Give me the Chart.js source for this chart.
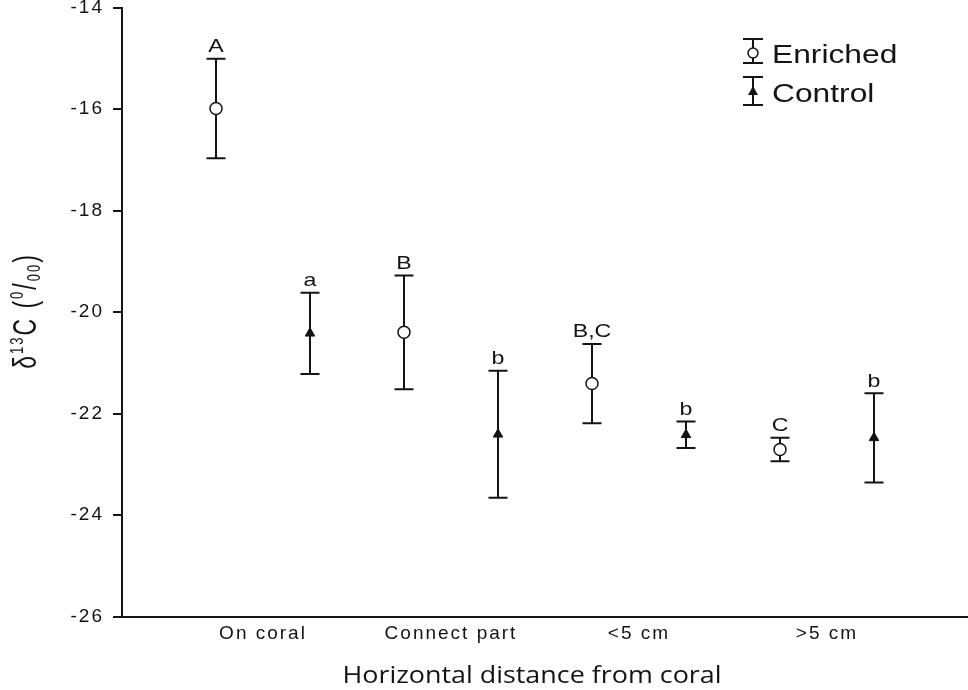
<!DOCTYPE html>
<html>
<head>
<meta charset="utf-8">
<script src="https://cdn.jsdelivr.net/npm/chart.js@4.4.1/dist/chart.umd.min.js"></script>
<style>
  html, body { margin: 0; padding: 0; background: #fff; }
  #wrap { width: 968px; height: 690px; }
</style>
</head>
<body>
<div id="wrap"><canvas id="chart" width="968" height="690"></canvas></div>
<script>
// values (mean +/- error, per group)
const categories = ['On coral', 'Connect part', '<5 cm', '>5 cm'];
const enrichedMean = [-15.99, -20.40, -21.41, -22.71];
const enrichedErr = [0.98, 1.12, 0.78, 0.23];
const controlMean = [-20.42, -22.41, -22.42, -22.48];
const controlErr = [0.80, 1.25, 0.26, 0.88];
const enrichedLetters = ['A', 'B', 'B,C', 'C'];
const controlLetters = ['a', 'b', 'b', 'b'];
const yTickValues = [-26, -24, -22, -20, -18, -16, -14];

const INK = '#141414';
const ARIAL = "'Liberation Sans', Arial, sans-serif";
const STRETCH = 1.22;   // glyphs in the figure are drawn wider than normal
const OFFSET = 0.25;    // side-by-side shift of the two groups

function buildPoints(means, errs, letters, shift) {
    return means.map((m, i) => ({ x: i + 1 + shift, y: m, err: errs[i], letter: letters[i] }));
}

// draw text stretched horizontally
function wideText(ctx, text, x, y, font, sx) {
    ctx.save();
    ctx.font = font;
    ctx.translate(x, y);
    ctx.scale(sx, 1);
    ctx.fillText(text, 0, 0);
    ctx.restore();
}

const errorBars = {
    id: 'errorBars',
    beforeDatasetsDraw(chart) {
        const { ctx, scales: { x, y } } = chart;
        ctx.save();
        ctx.strokeStyle = INK;
        ctx.lineWidth = 2;
        chart.data.datasets.forEach(ds => {
            ds.data.forEach(p => {
                const px = x.getPixelForValue(p.x);
                const top = y.getPixelForValue(p.y + p.err);
                const bot = y.getPixelForValue(p.y - p.err);
                ctx.beginPath();
                ctx.moveTo(px, top); ctx.lineTo(px, bot);
                ctx.moveTo(px - 9.5, top); ctx.lineTo(px + 9.5, top);
                ctx.moveTo(px - 9.5, bot); ctx.lineTo(px + 9.5, bot);
                ctx.stroke();
            });
        });
        ctx.restore();
    },
    afterDatasetsDraw(chart) {
        const { ctx, scales: { x, y } } = chart;
        ctx.save();
        ctx.letterSpacing = '0px';
        ctx.fillStyle = INK;
        ctx.textAlign = 'center';
        ctx.textBaseline = 'alphabetic';
        chart.data.datasets.forEach(ds => {
            ds.data.forEach(p => {
                const px = x.getPixelForValue(p.x);
                const top = y.getPixelForValue(p.y + p.err);
                wideText(ctx, p.letter, px, top - 6.5, '19px ' + ARIAL, STRETCH);
            });
        });
        ctx.restore();
    }
};

const decorations = {
    id: 'decorations',
    beforeDraw(chart) {
        // tick labels in the figure are spaced out
        chart.ctx.letterSpacing = '2px';
    },
    afterDraw(chart) {
        const ctx = chart.ctx;
        ctx.save();
        ctx.letterSpacing = '0px';
        ctx.fillStyle = INK;
        ctx.strokeStyle = INK;

        // x axis title
        ctx.textAlign = 'center';
        ctx.textBaseline = 'alphabetic';
        wideText(ctx, 'Horizontal distance from coral', 532, 683,
            "24px 'Open Sans', 'Noto Sans', sans-serif", 1.12);

        // y axis title: δ13C (0/00)
        ctx.save();
        ctx.translate(36, 311);
        ctx.rotate(-Math.PI / 2);
        ctx.scale(1, 1.45);
        ctx.letterSpacing = '2px';
        ctx.textAlign = 'left';
        const big = '23px ' + ARIAL, small = '13px ' + ARIAL;
        const parts = [
            ['δ', big, 0], ['13', small, -9], ['C (', big, 0],
            ['0', small, -9], ['/', big, 0], ['00', small, 3], [')', big, 0]
        ];
        let total = 0;
        parts.forEach(pt => { ctx.font = pt[1]; total += ctx.measureText(pt[0]).width; });
        let cx = -total / 2;
        parts.forEach(pt => {
            ctx.font = pt[1];
            ctx.fillText(pt[0], cx, pt[2]);
            cx += ctx.measureText(pt[0]).width;
        });
        ctx.restore();

        // legend
        const items = [
            { label: chart.data.datasets[0].label, top: 39, bot: 63, mid: 53, style: 'circle', baseline: 63 },
            { label: chart.data.datasets[1].label, top: 77, bot: 105, mid: 92, style: 'triangle', baseline: 102 }
        ];
        const lx = 753;
        items.forEach(it => {
            ctx.lineWidth = 2;
            ctx.beginPath();
            ctx.moveTo(lx, it.top); ctx.lineTo(lx, it.bot);
            ctx.moveTo(lx - 10, it.top); ctx.lineTo(lx + 10, it.top);
            ctx.moveTo(lx - 10, it.bot); ctx.lineTo(lx + 10, it.bot);
            ctx.stroke();
            ctx.lineWidth = 1.5;
            if (it.style === 'circle') {
                ctx.fillStyle = '#fff';
                ctx.beginPath();
                ctx.arc(lx, it.mid, 5, 0, Math.PI * 2);
                ctx.fill(); ctx.stroke();
            } else {
                ctx.fillStyle = INK;
                ctx.beginPath();
                ctx.moveTo(lx, it.mid - 6);
                ctx.lineTo(lx + 5, it.mid + 3);
                ctx.lineTo(lx - 5, it.mid + 3);
                ctx.closePath();
                ctx.fill();
            }
            ctx.fillStyle = INK;
            ctx.textAlign = 'left';
            wideText(ctx, it.label, 772, it.baseline, '25px ' + ARIAL, 1.27);
        });
        ctx.restore();
    }
};

new Chart(document.getElementById('chart'), {
    type: 'scatter',
    data: {
        datasets: [
            {
                label: 'Enriched',
                data: buildPoints(enrichedMean, enrichedErr, enrichedLetters, -OFFSET),
                pointStyle: 'circle',
                pointRadius: 6,
                pointHoverRadius: 6,
                backgroundColor: '#fff',
                borderColor: INK,
                borderWidth: 1.5
            },
            {
                label: 'Control',
                data: buildPoints(controlMean, controlErr, controlLetters, OFFSET),
                pointStyle: 'triangle',
                pointRadius: 5.5,
                pointHoverRadius: 5.5,
                backgroundColor: INK,
                borderColor: INK,
                borderWidth: 1
            }
        ]
    },
    options: {
        responsive: false,
        animation: false,
        devicePixelRatio: 1,
        layout: { autoPadding: false, padding: { top: 7.5, right: 0, left: 0, bottom: 0 } },
        plugins: {
            legend: { display: false },
            title: { display: false },
            tooltip: { enabled: false }
        },
        scales: {
            x: {
                type: 'linear',
                min: 0.25,
                max: categories.length + 0.75,
                afterFit(scale) {
                    scale.height = 73.5;
                    scale.paddingLeft = 0;
                    scale.paddingRight = 0;
                },
                afterBuildTicks(scale) {
                    scale.ticks = categories.map((c, i) => ({ value: i + 1 }));
                },
                ticks: {
                    autoSkip: false,
                    maxRotation: 0,
                    padding: 6,
                    color: INK,
                    font: { family: ARIAL, size: 19 },
                    callback: v => categories[v - 1]
                },
                grid: { display: false, drawTicks: false },
                border: { display: true, color: INK, width: 2 }
            },
            y: {
                min: yTickValues[0],
                max: yTickValues[yTickValues.length - 1],
                afterFit(scale) {
                    scale.width = 122;
                    scale.paddingTop = 0;
                    scale.paddingBottom = 0;
                },
                afterBuildTicks(scale) {
                    scale.ticks = yTickValues.map(v => ({ value: v }));
                },
                ticks: {
                    padding: 9,
                    color: INK,
                    font: { family: ARIAL, size: 19 }
                },
                grid: {
                    drawOnChartArea: false,
                    drawTicks: true,
                    tickLength: 9,
                    color: INK,
                    lineWidth: 2
                },
                border: { display: true, color: INK, width: 2 }
            }
        }
    },
    plugins: [errorBars, decorations]
});
</script>
</body>
</html>
